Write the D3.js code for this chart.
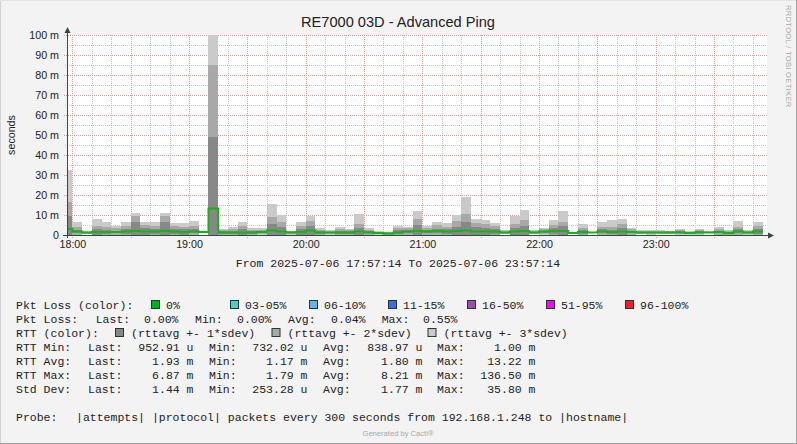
<!DOCTYPE html>
<html><head><meta charset="utf-8">
<script src="https://cdn.jsdelivr.net/npm/d3@7"></script>
<style>
html,body{margin:0;padding:0;background:#f3f3f3;}
svg{display:block;}
text{white-space:pre;}
</style></head><body>
<svg id="c" width="797" height="444"></svg>
<script>
// ---------------- data ----------------
const chartTitle = "RE7000 03D - Advanced Ping";
const yAxisLabel = "seconds";
const timeStart = new Date(2025, 6, 6, 17, 57, 14);
const timeEnd = new Date(2025, 6, 6, 23, 57, 14);
const firstBucketStart = new Date(2025, 6, 6, 17, 55, 0);
const bucketMinutes = 5;
const yTickValues = [0, 10, 20, 30, 40, 50, 60, 70, 80, 90, 100];

// RTT average per 5-minute bucket (ms), 17:55 .. 23:55
const rttAvg = [3.0,
 1.7,1.2,1.5,1.5,1.5,1.7,2.0,1.7,1.8,2.0,1.8,1.5,
 1.8,1.5,13.22,1.3,1.3,1.3,1.2,1.5,2.3,1.8,1.2,1.5,
 2.2,1.3,1.3,1.3,1.3,1.7,1.3,1.0,0.8,1.3,1.8,2.0,
 1.7,2.0,1.7,2.0,2.3,1.8,1.8,1.8,1.3,1.8,2.0,1.3,
 1.7,2.0,2.0,1.0,1.5,1.3,1.8,1.5,1.8,1.5,1.3,1.2,
 1.3,1.3,1.3,1.0,1.3,1.3,1.5,1.0,1.8,1.3,1.8,null];
// upper edge of (rttavg +- 1*sdev) band (ms)
const rttBand1Hi = [9.7,
 2.5,1.5,2.8,2.5,2.2,2.8,6.7,3.3,3.0,6.7,3.2,3.0,
 2.8,1.7,49.0,2.0,2.2,2.8,2.0,2.0,5.5,4.2,1.5,3.0,
 4.7,2.0,1.7,2.2,2.0,3.7,1.8,1.4,1.1,2.3,2.7,4.8,
 2.5,3.2,3.0,4.2,6.7,4.0,3.7,3.2,1.7,3.5,4.7,1.7,
 2.2,3.3,4.5,1.1,2.5,1.4,2.8,2.5,3.5,2.2,1.7,1.6,
 1.7,1.6,1.8,1.3,1.8,1.5,2.2,1.5,2.8,1.7,3.0,null];
// upper edge of (rttavg +- 2*sdev) band (ms)
const rttBand2Hi = [16.7,
 4.2,1.7,4.5,4.2,3.3,4.5,9.5,5.0,4.7,9.3,4.7,4.2,
 4.5,1.8,84.8,2.5,3.0,4.5,2.7,2.7,9.0,6.3,1.8,4.5,
 7.2,2.7,2.0,3.0,2.5,5.5,2.5,1.7,1.4,3.3,3.7,7.8,
 3.7,4.8,4.2,7.2,10.5,5.8,5.7,4.5,2.0,5.5,7.5,2.0,
 2.8,5.0,6.7,1.2,3.5,1.5,4.2,4.2,5.5,2.8,2.0,1.9,
 2.0,1.9,2.3,1.5,2.3,1.6,3.0,2.0,4.2,2.0,4.7,null];
// upper edge of (rttavg +- 3*sdev) band (ms)
const rttBand3Hi = [32.5,
 6.5,2.0,8.0,6.7,4.7,6.7,11.2,6.7,6.3,11.0,5.8,5.8,
 7.0,1.9,120.0,3.0,4.2,6.7,3.5,3.5,15.5,10.0,2.2,6.5,
 9.7,3.5,2.5,4.0,3.2,10.5,3.5,2.0,1.7,4.7,4.0,12.2,
 4.7,6.5,6.0,10.0,19.2,8.0,7.5,6.2,2.3,9.7,12.5,2.3,
 3.7,7.5,12.0,1.3,5.5,1.7,6.5,7.5,8.0,3.5,2.3,2.3,
 2.3,2.2,3.0,1.8,3.0,1.8,4.0,2.5,7.0,2.5,6.5,null];

const lossLabels = ["0%", "03-05%", "06-10%", "11-15%", "16-50%", "51-95%", "96-100%"];
const lossColors = ["#00b020", "#48d1cc", "#6cb0e8", "#4169e1", "#9a4fa8", "#ff00ff", "#ee1c2c"];
const bandLabels = ["(rttavg +- 1*sdev)", "(rttavg +- 2*sdev)", "(rttavg +- 3*sdev)"];
const bandColors = ["#888888", "#a8a8a8", "#cacaca"];

const lossStatNames = ["Last:", "Min:", "Avg:", "Max:"];
const lossStatValues = ["0.00%", "0.00%", "0.04%", "0.55%"];
const rttStatLabels = ["RTT Min:", "RTT Avg:", "RTT Max:", "Std Dev:"];
const rttStatLast = ["952.91 u", "1.93 m", "6.87 m", "1.44 m"];
const rttStatMin = ["732.02 u", "1.17 m", "1.79 m", "253.28 u"];
const rttStatAvg = ["838.97 u", "1.80 m", "8.21 m", "1.77 m"];
const rttStatMax = ["1.00 m", "13.22 m", "136.50 m", "35.80 m"];
const fromToText = "From 2025-07-06 17:57:14 To 2025-07-06 23:57:14";
const probeText = "|attempts| |protocol| packets every 300 seconds from 192.168.1.248 to |hostname|";

// ---------------- layout ----------------
const W = 797, H = 444;
const P = {left: 67, top: 35, width: 700, height: 200};
const MONO = "'Liberation Mono', 'DejaVu Sans Mono', monospace";
const SANS = "'Liberation Sans', Arial, sans-serif";
const TXT = "#222";

const svg = d3.select("#c");
svg.append("rect").attr("width", W).attr("height", H).attr("fill", "#f3f3f3");
svg.append("line").attr("x1", 0.5).attr("y1", 0).attr("x2", 0.5).attr("y2", H).attr("stroke", "#d4d4d4");
svg.append("line").attr("x1", 0).attr("y1", 0.5).attr("x2", W).attr("y2", 0.5).attr("stroke", "#e4e4e4");
svg.append("line").attr("x1", W - 0.5).attr("y1", 0).attr("x2", W - 0.5).attr("y2", H).attr("stroke", "#a0a0a0");
svg.append("line").attr("x1", 0).attr("y1", H - 0.5).attr("x2", W).attr("y2", H - 0.5).attr("stroke", "#a0a0a0");

const x = d3.scaleTime().domain([timeStart, timeEnd]).range([P.left, P.left + P.width]);
const y = d3.scaleLinear().domain([0, 100]).range([P.top + P.height, P.top]);

// plot background
svg.append("rect").attr("x", P.left).attr("y", P.top).attr("width", P.width).attr("height", P.height).attr("fill", "#ffffff");

// clip
svg.append("clipPath").attr("id", "pc").append("rect")
  .attr("x", P.left).attr("y", P.top).attr("width", P.width).attr("height", P.height);

// grid (behind data)
const gGrid = svg.append("g");
const minorY = d3.range(5, 100, 10);
const majorY = yTickValues.filter(v => v > 0);
const tick10 = d3.timeMinute.every(10).range(timeStart, timeEnd);
const minorX = tick10.filter(t => t.getMinutes() % 30 !== 0);
const majorX = tick10.filter(t => t.getMinutes() % 30 === 0);
gGrid.selectAll(".mny").data(minorY).join("line")
  .attr("x1", P.left - 2).attr("x2", P.left + P.width)
  .attr("y1", d => Math.round(y(d)) + 0.5).attr("y2", d => Math.round(y(d)) + 0.5)
  .attr("stroke", "#c8c8c8").attr("stroke-dasharray", "1,1");
gGrid.selectAll(".mnx").data(minorX).join("line")
  .attr("x1", d => Math.round(x(d)) + 0.5).attr("x2", d => Math.round(x(d)) + 0.5)
  .attr("y1", P.top).attr("y2", P.top + P.height + 2)
  .attr("stroke", "#c8c8c8").attr("stroke-dasharray", "1,1");
gGrid.selectAll(".mjy").data(majorY).join("line")
  .attr("x1", P.left - 3).attr("x2", P.left + P.width)
  .attr("y1", d => Math.round(y(d)) + 0.5).attr("y2", d => Math.round(y(d)) + 0.5)
  .attr("stroke", "#f09a9a").attr("stroke-dasharray", "1,1");
gGrid.selectAll(".mjx").data(majorX).join("line")
  .attr("x1", d => Math.round(x(d)) + 0.5).attr("x2", d => Math.round(x(d)) + 0.5)
  .attr("y1", P.top).attr("y2", P.top + P.height + 3)
  .attr("stroke", "#f09a9a").attr("stroke-dasharray", "1,1");

// buckets
const buckets = rttAvg.map((a, i) => {
  const s = d3.timeMinute.offset(firstBucketStart, i * bucketMinutes);
  return {start: s, end: d3.timeMinute.offset(s, bucketMinutes), avg: a,
    hi: [rttBand3Hi[i], rttBand2Hi[i], rttBand1Hi[i]]};
}).filter(d => d.avg != null);

const gData = svg.append("g").attr("clip-path", "url(#pc)");
const bandOrder = [bandColors[2], bandColors[1], bandColors[0]];
bandOrder.forEach((col, bi) => {
  gData.append("g").selectAll("rect").data(buckets).join("rect")
    .attr("x", d => x(d.start))
    .attr("width", d => x(d.end) - x(d.start))
    .attr("y", d => y(d.hi[bi]))
    .attr("height", d => y(Math.max(0, 2 * d.avg - d.hi[bi])) - y(d.hi[bi]))
    .attr("fill", col)
    .attr("shape-rendering", "crispEdges");
});

// avg line
const linePts = buckets.map(d => [d.start, d.avg]);
linePts.push([buckets[buckets.length - 1].end, buckets[buckets.length - 1].avg]);
gData.append("path").datum(linePts)
  .attr("d", d3.line().x(d => x(d[0])).y(d => y(d[1])).curve(d3.curveStepAfter))
  .attr("fill", "none").attr("stroke", "#14b414").attr("stroke-width", 2);

// axes labels via d3 axes
const yAxis = d3.axisLeft(y).tickValues(yTickValues).tickSize(0).tickPadding(8)
  .tickFormat(d => d === 0 ? "0" : d + " m");
const gy = svg.append("g").attr("transform", `translate(${P.left},0)`).call(yAxis);
gy.select(".domain").remove();
gy.selectAll("text").attr("font-family", SANS).attr("font-size", 10.7).attr("fill", TXT);

const hourTicks = d3.timeHour.every(1).range(timeStart, timeEnd);
const xAxis = d3.axisBottom(x).tickValues(hourTicks).tickSize(0).tickPadding(5)
  .tickFormat(d3.timeFormat("%H:%M"));
const gx = svg.append("g").attr("transform", `translate(0,${P.top + P.height})`).call(xAxis);
gx.select(".domain").remove();
gx.selectAll("text").attr("font-family", SANS).attr("font-size", 10.7).attr("fill", TXT);

// axis lines + arrows
const AX = "#2c4d43";
const y0 = Math.round(y(0)) + 0.5;
svg.append("line").attr("x1", P.left - 4).attr("x2", P.left + P.width + 2)
  .attr("y1", y0).attr("y2", y0).attr("stroke", AX);
svg.append("line").attr("x1", P.left + 0.5).attr("x2", P.left + 0.5)
  .attr("y1", P.top + P.height + 3).attr("y2", P.top - 3).attr("stroke", AX);
svg.append("path").attr("d", `M${P.left + 0.5},${P.top - 8} L${P.left - 2.5},${P.top - 2} L${P.left + 3.5},${P.top - 2} Z`).attr("fill", AX);
svg.append("path").attr("d", `M${P.left + P.width + 7},${y0} L${P.left + P.width + 1},${y0 - 3} L${P.left + P.width + 1},${y0 + 3} Z`).attr("fill", AX);

// title, y label, watermark
svg.append("text").attr("x", 398).attr("y", 27).attr("text-anchor", "middle")
  .attr("font-family", SANS).attr("font-size", 14.6).attr("fill", TXT).text(chartTitle);
svg.append("text").attr("transform", "translate(15,135) rotate(-90)").attr("text-anchor", "middle")
  .attr("font-family", SANS).attr("font-size", 10.7).attr("fill", TXT).text(yAxisLabel);
svg.append("text").attr("transform", "translate(786,5) rotate(90)").attr("text-anchor", "start")
  .attr("font-family", SANS).attr("font-size", 7.6).attr("fill", "#a8a8a8").attr("letter-spacing", 0.3)
  .text("RRDTOOL / TOBI OETIKER");

// legend text helper
const FS = 11.5;
function t(xp, yc, str, anchor) {
  return svg.append("text").attr("x", xp).attr("y", yc).attr("dy", "0.36em")
    .attr("text-anchor", anchor || "start").attr("font-family", MONO).attr("font-size", FS)
    .attr("fill", TXT).text(str);
}
function box(xp, yc, col) {
  svg.append("rect").attr("x", xp + 0.5).attr("y", yc - 4.5).attr("width", 8).attr("height", 8)
    .attr("fill", col).attr("stroke", "#1d3a33").attr("stroke-width", 1);
}

t(398, 263, fromToText, "middle");

// row 1: loss colors
const r1 = 305;
t(16, r1, "Pkt Loss (color):");
lossLabels.forEach((lab, i) => {
  const bx = 151 + 79 * i;
  box(bx, r1, lossColors[i]);
  t(bx + 15, r1, lab);
});

// row 2: loss stats
const r2 = 319;
t(16, r2, "Pkt Loss:");
const lossNameX = [95.7, 195, 288, 381.7];
const lossValX = [144, 237, 331, 423];
lossStatNames.forEach((n, i) => { t(lossNameX[i], r2, n); t(lossValX[i], r2, lossStatValues[i]); });

// row 3: rtt colors
const r3 = 333;
t(16, r3, "RTT (color):");
const bandBoxX = [115, 271.5, 427.5];
bandLabels.forEach((lab, i) => { box(bandBoxX[i], r3, bandColors[i]); t(bandBoxX[i] + 16, r3, lab); });

// rows 4-7: rtt stats
const statNameX = [88, 209, 323, 437];
const statEndX = [193.5, 307.5, 422.5, 535.5];
const statCols = [rttStatLast, rttStatMin, rttStatAvg, rttStatMax];
rttStatLabels.forEach((lab, r) => {
  const yc = 347 + 14 * r;
  t(16, yc, lab);
  lossStatNames.forEach((n, c) => {
    t(statNameX[c], yc, n);
    t(statEndX[c], yc, statCols[c][r], "end");
  });
});

// probe line
t(16, 417, "Probe:");
t(76, 417, probeText);

svg.append("text").attr("x", 398).attr("y", 436).attr("text-anchor", "middle")
  .attr("font-family", SANS).attr("font-size", 7.6).attr("fill", "#a8a8a8").text("Generated by Cacti®");
</script>
</body></html>
